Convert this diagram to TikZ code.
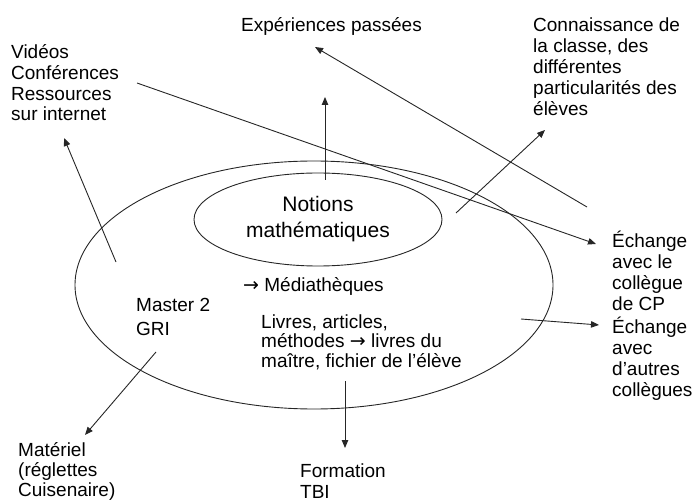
\documentclass[tikz,border=0pt]{standalone}
\usepackage{fontspec}
\setmainfont{Liberation Sans}
\newfontfamily\fleches{DejaVu Sans}
\usetikzlibrary{arrows.meta,shapes.geometric}

\tikzset{
  txt/.style={inner sep=0pt, align=left, anchor=base west, font=\fontsize{19}{20.7}\selectfont},
  trait/.style={draw=black!85, line width=0.9pt},
  fleche/.style={trait, -{Triangle[length=8pt,width=6.5pt]}},
}

\begin{document}
\begin{tikzpicture}[x=1pt, y=-1pt]
                \useasboundingbox (0,0) rectangle (698,502);
                % les deux ellipses
                \node[ellipse, trait, inner sep=0pt, minimum width=478pt, minimum height=248pt] (monde) at (314,285) {};
                \node[ellipse, trait, inner sep=0pt, minimum width=248pt, minimum height=93pt, align=center,
                      font=\fontsize{21}{26}\selectfont] (notions) at (318,219.5) {Notions\\mathématiques};
                % textes (ancre = ligne de base de la derniere ligne)
                \node[txt] (experiences) at (241,32) {Expériences passées};
                \node[txt] (videos) at (11,121) {Vidéos\\Conférences\\Ressources\\sur internet};
                \node[txt, font=\fontsize{19}{21}\selectfont] (connaissance) at (533,116) {Connaissance de\\la classe, des\\différentes\\particularités des\\élèves};
                \node[txt] (mediatheques) at (243,291) {{\fleches →} Médiathèques};
                \node[txt, font=\fontsize{19}{23.5}\selectfont] (master) at (136,335) {Master 2\\GRI};
                \node[txt, font=\fontsize{19}{19.5}\selectfont] (livres) at (261,367) {Livres, articles,\\méthodes {\fleches →} livres du\\maître, fichier de l’élève};
                \node[txt, font=\fontsize{19}{20}\selectfont] (materiel) at (18,496.5) {Matériel\\(réglettes\\Cuisenaire)};
                \node[txt, font=\fontsize{19}{21}\selectfont] (formation) at (300,498) {Formation\\TBI};
                \node[txt] (echangeCP) at (612,310) {Échange\\avec le\\collègue\\de CP};
                \node[txt] (echangeAutres) at (612,396) {Échange\\avec\\d’autres\\collègues};
                % extremites des fleches
                \coordinate (depNotions) at (325,180);   \coordinate (finNotions) at (325,97);
                \coordinate (depExp) at (587,207);       \coordinate (finExp) at (315,47);
                \coordinate (depVideos) at (137,83);     \coordinate (finCP) at (596,244);
                \coordinate (depClasse) at (456,213);    \coordinate (finClasse) at (545,130);
                \coordinate (depAutres) at (521,319);    \coordinate (finAutres) at (599,325);
                \coordinate (depMateriel) at (156,352);  \coordinate (finMateriel) at (85,435);
                \coordinate (depInternet) at (116,262);  \coordinate (finInternet) at (64,138);
                \coordinate (depFormation) at (345,381); \coordinate (finFormation) at (345,448);
                \foreach \a/\b in {depNotions/finNotions, depExp/finExp, depVideos/finCP, depClasse/finClasse,
                                   depAutres/finAutres, depMateriel/finMateriel, depInternet/finInternet,
                                   depFormation/finFormation} {
                    \draw[fleche] (\a) -- (\b);
                }
            \end{tikzpicture}
\end{document}
